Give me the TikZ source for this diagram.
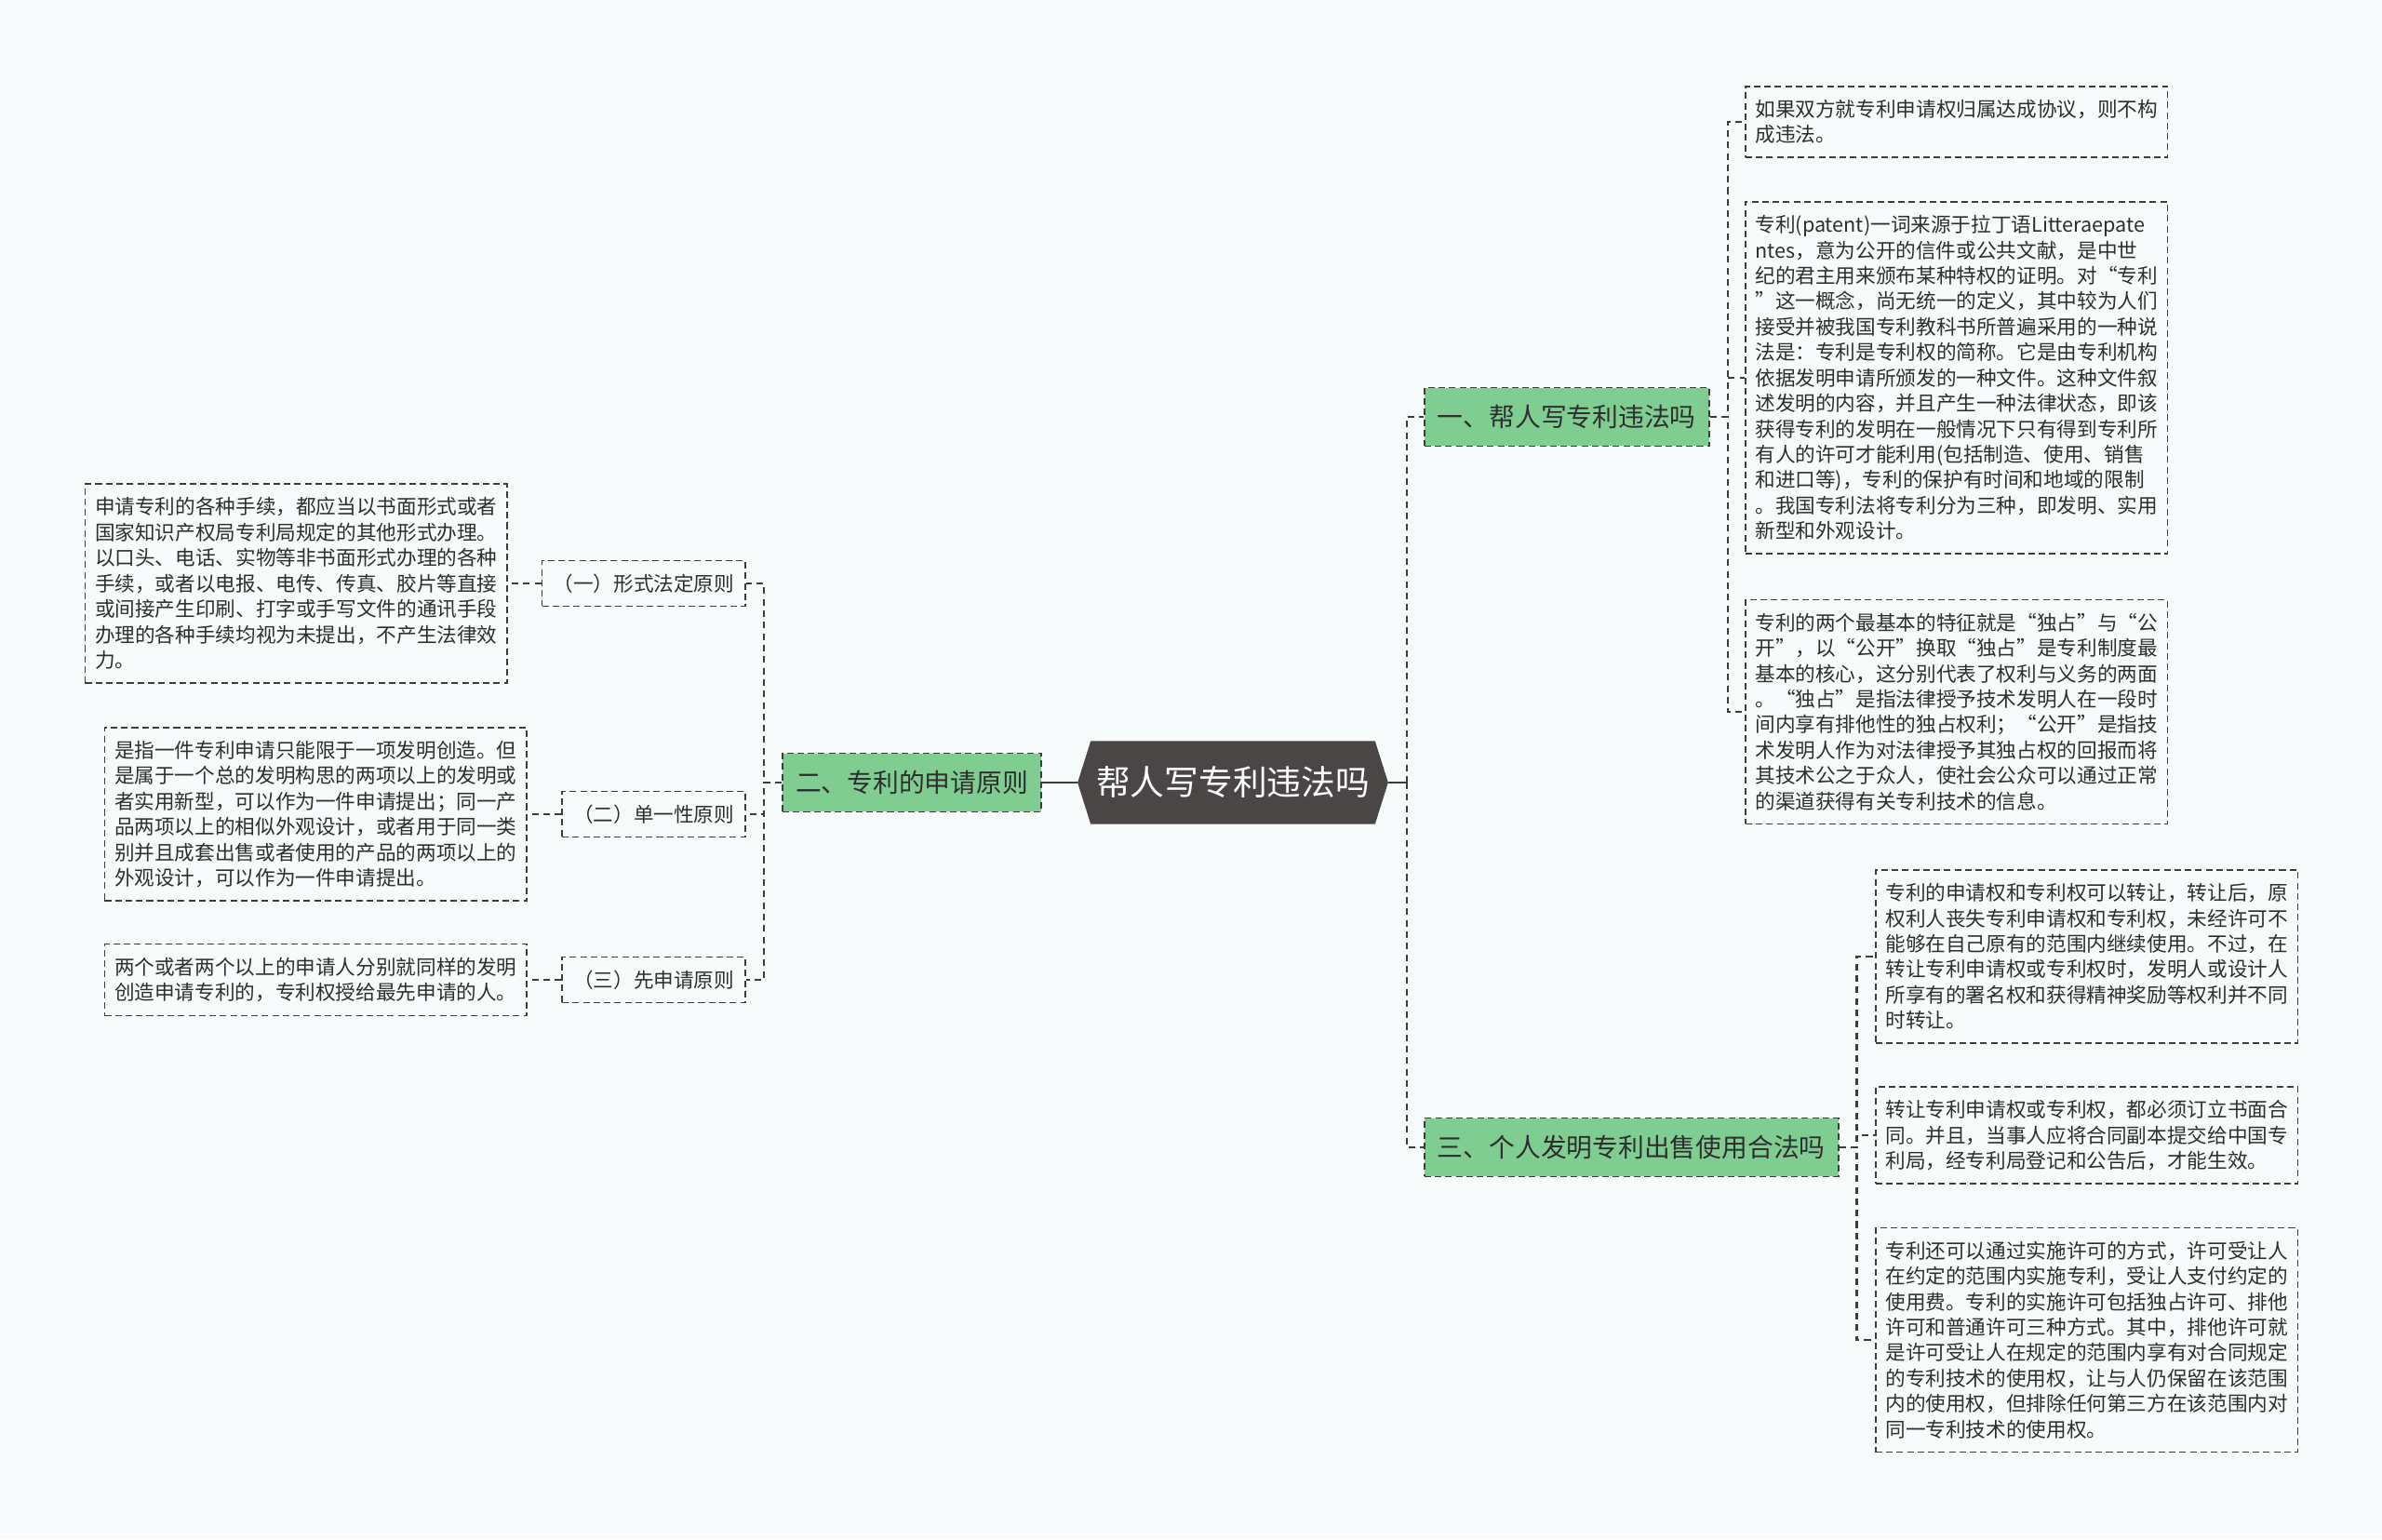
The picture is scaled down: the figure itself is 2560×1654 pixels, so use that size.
\documentclass[tikz,border=0pt]{standalone}
\usepackage{fontspec}
\newfontfamily\cjk{Noto Sans CJK SC}
\usetikzlibrary{backgrounds}
\definecolor{mbg}{HTML}{F8FBFC}
\definecolor{mgreen}{HTML}{7FCD91}
\definecolor{mhex}{HTML}{4B4646}
\definecolor{mline}{HTML}{3C3C3C}
\definecolor{mtext}{HTML}{2E2E2E}

\tikzset{
  link/.style={mline, line width=0.65pt, dash pattern=on 2pt off 1.5pt},
  stem/.style={mline, line width=0.7pt},
  leafbox/.style={draw=mline, line width=0.5pt, dash pattern=on 2pt off 1.2pt, text=mtext,
    font=\cjk\fontsize{6.15pt}{7.8pt}\selectfont, align=left, text width=123pt,
    inner xsep=3pt, inner ysep=4.1pt},
  subbox/.style={draw=mline, line width=0.5pt, dash pattern=on 2pt off 1.2pt, text=mtext,
    font=\cjk\fontsize{6.15pt}{7.8pt}\selectfont, inner xsep=3.4pt, minimum height=13.9pt},
  topicbox/.style={fill=mgreen, draw=mline, line width=0.5pt, dash pattern=on 2pt off 1.2pt,
    text=mtext, font=\cjk\fontsize{7.9pt}{9pt}\selectfont, inner xsep=4pt, minimum height=17.9pt},
  rootbox/.style={text=white, font=\cjk\fontsize{10.45pt}{12pt}\selectfont,
    minimum width=94.5pt, minimum height=25pt, inner sep=0pt}
}

\begin{document}
\begin{tikzpicture}[x=0.01cm, y=-0.01cm]
 \useasboundingbox (0,0) rectangle (2560,1654);
 \node[rootbox] (root) at (1325,841) {帮人写专利违法吗};
 \begin{scope}[on background layer]
  \fill[mbg] (0,0) rectangle (2560,1654);
  \fill[mhex] (root.west) -- ([xshift=4pt]root.north west) -- ([xshift=-4pt]root.north east)
    -- (root.east) -- ([xshift=-4pt]root.south east) -- ([xshift=4pt]root.south west) -- cycle;
 \end{scope}

 % topics
 \node[topicbox, anchor=west] (t1) at (1530,448) {一、帮人写专利违法吗};
 \node[topicbox, anchor=east] (t2) at (1120,841) {二、专利的申请原则};
 \node[topicbox, anchor=west] (t3) at (1530,1233) {三、个人发明专利出售使用合法吗};

 % right leaves
 \node[leafbox, anchor=west] (r1) at (1875,131) {如果双方就专利申请权归属达成协议，则不构\\成违法。};
 \node[leafbox, anchor=west] (r2) at (1875,406) {专利(patent)一词来源于拉丁语Litteraepate\\
ntes，意为公开的信件或公共文献，是中世\\
纪的君主用来颁布某种特权的证明。对“专利\\
”这一概念，尚无统一的定义，其中较为人们\\
接受并被我国专利教科书所普遍采用的一种说\\
法是：专利是专利权的简称。它是由专利机构\\
依据发明申请所颁发的一种文件。这种文件叙\\
述发明的内容，并且产生一种法律状态，即该\\
获得专利的发明在一般情况下只有得到专利所\\
有人的许可才能利用(包括制造、使用、销售\\
和进口等)，专利的保护有时间和地域的限制\\
。我国专利法将专利分为三种，即发明、实用\\
新型和外观设计。};
 \node[leafbox, anchor=west] (r3) at (1875,765) {专利的两个最基本的特征就是“独占”与“公\\
开”，以“公开”换取“独占”是专利制度最\\
基本的核心，这分别代表了权利与义务的两面\\
。“独占”是指法律授予技术发明人在一段时\\
间内享有排他性的独占权利；“公开”是指技\\
术发明人作为对法律授予其独占权的回报而将\\
其技术公之于众人，使社会公众可以通过正常\\
的渠道获得有关专利技术的信息。};
 \node[leafbox, anchor=west] (r4) at (2015,1028) {专利的申请权和专利权可以转让，转让后，原\\
权利人丧失专利申请权和专利权，未经许可不\\
能够在自己原有的范围内继续使用。不过，在\\
转让专利申请权或专利权时，发明人或设计人\\
所享有的署名权和获得精神奖励等权利并不同\\
时转让。};
 \node[leafbox, anchor=west] (r5) at (2015,1220) {转让专利申请权或专利权，都必须订立书面合\\
同。并且，当事人应将合同副本提交给中国专\\
利局，经专利局登记和公告后，才能生效。};
 \node[leafbox, anchor=west] (r6) at (2015,1440) {专利还可以通过实施许可的方式，许可受让人\\
在约定的范围内实施专利，受让人支付约定的\\
使用费。专利的实施许可包括独占许可、排他\\
许可和普通许可三种方式。其中，排他许可就\\
是许可受让人在规定的范围内享有对合同规定\\
的专利技术的使用权，让与人仍保留在该范围\\
内的使用权，但排除任何第三方在该范围内对\\
同一专利技术的使用权。};

 % left side
 \node[subbox, anchor=east] (s1) at (802,627) {（一）形式法定原则};
 \node[subbox, anchor=east] (s2) at (802,875) {（二）单一性原则};
 \node[subbox, anchor=east] (s3) at (802,1053) {（三）先申请原则};
 \node[leafbox, anchor=east] (l1) at (546,627) {申请专利的各种手续，都应当以书面形式或者\\
国家知识产权局专利局规定的其他形式办理。\\
以口头、电话、实物等非书面形式办理的各种\\
手续，或者以电报、电传、传真、胶片等直接\\
或间接产生印刷、打字或手写文件的通讯手段\\
办理的各种手续均视为未提出，不产生法律效\\
力。};
 \node[leafbox, anchor=east] (l2) at (567,875) {是指一件专利申请只能限于一项发明创造。但\\
是属于一个总的发明构思的两项以上的发明或\\
者实用新型，可以作为一件申请提出；同一产\\
品两项以上的相似外观设计，或者用于同一类\\
别并且成套出售或者使用的产品的两项以上的\\
外观设计，可以作为一件申请提出。};
 \node[leafbox, anchor=east] (l3) at (567,1053) {两个或者两个以上的申请人分别就同样的发明\\
创造申请专利的，专利权授给最先申请的人。};

 % connectors
 \draw[stem] (root.west) -- (t2.east);
 \draw[stem] (root.east) -- ++(20,0) coordinate (rj);
 \foreach \t in {t1,t3} \draw[link] (rj) |- (\t.west);
 \foreach \r in {r1,r2,r3} \draw[link] (t1.east) -- ++(19,0) |- (\r.west);
 \foreach \r in {r4,r5,r6} \draw[link] (t3.east) -- ++(19,0) |- (\r.west);
 \foreach \s in {s1,s2,s3} \draw[link] (t2.west) -- ++(-19,0) |- (\s.east);
 \foreach \s/\l in {s1/l1,s2/l2,s3/l3} \draw[link] (\s.west) -- (\l.east);
\end{tikzpicture}
\end{document}
